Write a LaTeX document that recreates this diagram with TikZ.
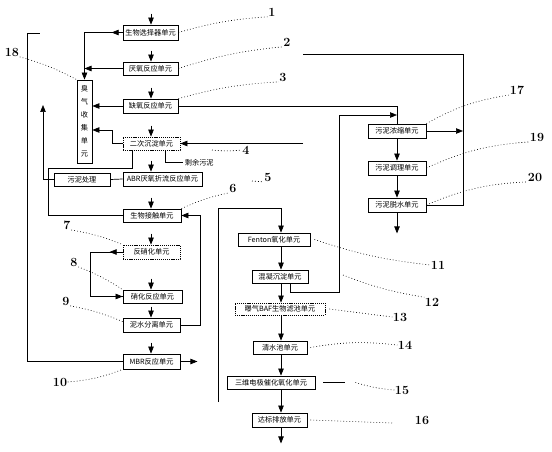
\documentclass[tikz,border=0pt]{standalone}
\usepackage{fontspec}
\newfontfamily\cjk{Noto Sans CJK SC}
\usetikzlibrary{arrows.meta,calc}
\begin{document}
\begin{tikzpicture}[x=1pt,y=-1pt,
  box/.style={draw,line width=0.8pt,inner sep=0pt,font=\cjk\fontsize{7.2}{8}\selectfont},
  dbox/.style={box,dash pattern=on 1.2pt off 0.9pt},
  arr/.style={-{Triangle[width=5.5pt,length=7pt]}},
  ln/.style={line width=0.7pt},
  lead/.style={dash pattern=on 0.8pt off 2.2pt,line width=0.6pt},
  num/.style={font=\bfseries\fontsize{12.5}{13}\selectfont,inner sep=0.5pt}]
\useasboundingbox (0,0) rectangle (552,452);
% left column
\node[box,minimum width=55,minimum height=15] (b1) at (150.5,32.5) {生物选择器单元};
\node[box,minimum width=55,minimum height=13] (b2) at (150.5,68.5) {厌氧反应单元};
\node[box,minimum width=55,minimum height=14] (b3) at (150.5,106) {缺氧反应单元};
\node[dbox,minimum width=57,minimum height=13] (b4) at (151.5,143.5) {二次沉淀单元};
\node[box,minimum width=79,minimum height=14] (b5) at (162.5,179) {ABR厌氧折流反应单元};
\node[box,minimum width=15,minimum height=83,font=\cjk\fontsize{7.2}{13}\selectfont,align=center] (b18) at (84.5,121.5) {臭\\气\\收\\集\\单\\元};
\node[box,minimum width=56,minimum height=13] (bs) at (82,179.5) {污泥处理};
\node[box,minimum width=58,minimum height=13] (b6) at (152,215.5) {生物接触单元};
\node[dbox,minimum width=57,minimum height=14] (b7) at (151.5,252) {反硝化单元};
\node[box,minimum width=59,minimum height=13] (b8) at (152.5,296.5) {硝化反应单元};
\node[box,minimum width=57,minimum height=14] (b9) at (151.5,325) {泥水分离单元};
\node[box,minimum width=57,minimum height=15] (b10) at (151.5,361.5) {MBR反应单元};
% middle column
\node[box,minimum width=72,minimum height=13] (b11) at (274,239.5) {Fenton氧化单元};
\node[box,minimum width=56,minimum height=13] (b12) at (280,276.5) {混凝沉淀单元};
\node[dbox,minimum width=90,minimum height=12] (b13) at (280,309) {曝气BAF生物滤池单元};
\node[box,minimum width=54,minimum height=13] (b14) at (280,347.5) {清水池单元};
\node[box,minimum width=88,minimum height=13] (b15) at (271,382.5) {三维电极催化氧化单元};
\node[box,minimum width=55,minimum height=14] (b16) at (279.5,420) {达标排放单元};
% right column
\node[box,minimum width=58,minimum height=14] (b17) at (397,131) {污泥浓缩单元};
\node[box,minimum width=58,minimum height=14] (b19) at (397,168) {污泥调理单元};
\node[box,minimum width=58,minimum height=14] (b20) at (397,205) {污泥脱水单元};
% helper coordinates
\coordinate (cx) at (151,0);
\coordinate (cr) at (281,0);
% inflow stubs, left column
\foreach \b in {b1,b2,b3,b4,b5,b6,b7,b8,b9,b10}
  \draw[ln,arr] ($(\b.north -| cx)+(0,-11)$) -- (\b.north -| cx);
% middle column chain
\draw[ln,arr] (b11.south -| cr) -- (b12.north -| cr);
\draw[ln,arr] (b12.south -| cr) -- (b13.north -| cr);
\draw[ln,arr] (b13.south -| cr) -- (b14.north -| cr);
\draw[ln,arr] (b14.south -| cr) -- (b15.north -| cr);
\draw[ln,arr] (b15.south -| cr) -- (b16.north -| cr);
\draw[ln,arr] (b16.south -| cr) -- ($(b16.south -| cr)+(0,16)$);
% right column chain
\draw[ln,arr] (b17) -- (b19);
\draw[ln,arr] (b19) -- (b20);
\draw[ln,arr] (b20.south) -- ($(b20.south)+(0,21)$);
% gas lines to odour unit
\draw[ln,arr] (b1.west) -- (b1.west -| b18.north) -- (b18.north);
\draw[ln,arr] (b1.west) -- ++(-11,0);
\draw[ln,arr] (b2.west) -- (b2.west -| b18.north);
\draw[ln,arr] (b3.west) -- (b3.west -| b18.east);
\coordinate (k4) at (112,130);
\draw[ln,arr] (b4.west) -| (k4) -- (k4 -| b18.east);
\coordinate (k4r) at (303,143.5);
\draw[ln,arr] (k4r) -- (b4.east);
% sludge of unit 3 to concentration
\draw[ln] (b3.east) -| (b17.north);
% excess sludge
\draw[ln] ([xshift=13.5pt]b4.south) -- ++(0,12) -- ++(18,0)
  node[right,inner sep=1.5pt,font=\cjk\fontsize{7.2}{8}\selectfont] (ws) {剩余污泥};
\coordinate (k48) at (48,168);
\draw[ln] ([xshift=-19.5pt]b4.south) |- (k48) |- (b6.west);
\draw[ln] (b5.west) -- (bs.east);
\coordinate (k43) at (43,105);
\draw[ln,arr] (bs.west) -| (k43);
% return from separation to contact unit
\coordinate (k200) at (200,0);
\draw[ln,arr] (b9.east) -| (b6.east -| k200) -- (b6.east);
% recirculation 7/8
\coordinate (k90) at (90,0);
\draw[ln] (b7.west) -- (b7.west -| k90) -- (b8.west -| k90) -- (b8.west);
\draw[ln,arr] (b7.west) -- ++(-13,0);
\draw[ln,arr] ($(b8.west)+(-13,0)$) -- (b8.west);
% MBR lines
\coordinate (k27) at (27,33);
\coordinate (k40) at (40,33);
\draw[ln] (b10.west) -| (k27) -- (k40);
\draw[ln,arr] (b10.east) -- ++(17,0);
% feed to Fenton
\coordinate (pA) at (218,402);
\coordinate (pB) at (218,208);
\draw[ln,arr] (pA) -- (pB) -| (b11.north -| cr);
% sludge of unit 12
\coordinate (k12) at (290,292);
\coordinate (k339) at (339,292);
\coordinate (k339t) at (339,115);
\draw[ln] (b12.south -| k12) -- (k12) -- (k339) -- (k339t);
\draw[ln,arr] (k339t) -- (k339t -| b17.north);
% right loop
\coordinate (k303) at (303,54);
\coordinate (k463) at (463,54);
\draw[ln] (k303) -- (k463) |- (b20.east);
\draw[ln,arr] (b17.east) -- (b17.east -| k463);
% numbers
\node[num] (l1) at (272,12) {1};
\node[num] (l2) at (287,42) {2};
\node[num] (l3) at (283,77) {3};
\node[num] (l4) at (246,150) {4};
\node[num] (l5) at (268,177) {5};
\node[num] (l6) at (233,188) {6};
\node[num] (l7) at (67,225) {7};
\node[num] (l8) at (74,262) {8};
\node[num] (l9) at (66,301) {9};
\node[num] (l10) at (60,382) {10};
\node[num] (l11) at (438,265) {11};
\node[num] (l12) at (432,302) {12};
\node[num] (l13) at (400,317) {13};
\node[num] (l14) at (405,345) {14};
\node[num] (l15) at (402,390) {15};
\node[num] (l16) at (422,420) {16};
\node[num] (l17) at (517,90) {17};
\node[num] (l18) at (12,52) {18};
\node[num] (l19) at (537,137) {19};
\node[num] (l20) at (535,177) {20};
% leaders
\draw[lead] (b1.east) to[bend left=6] (l1.south west);
\draw[lead] (b2.east) to[bend left=6] (l2.south west);
\draw[lead] (b3.north east) to[bend left=6] (l3.south west);
\coordinate (s4) at (212,150);
\draw[lead] (s4) to[bend right=6] (l4.west);
\coordinate (s5) at (252,181);
\draw[lead] (s5) -- (l5.south west);
\draw[lead] (b6.north east) to[bend left=6] (l6.south west);
\draw[lead] (l7.south east) to[bend left=6] (b7.north west);
\draw[lead] (l8.south east) to[bend left=6] (b8.north west);
\draw[lead] (l9.south east) to[bend left=6] ([yshift=-4pt]b9.north west);
\draw[lead] (l10.east) to[bend right=8] (b10.south west);
\draw[lead] ([xshift=4pt]b11.east) to[bend right=6] (l11.west);
\coordinate (s12) at (343,275);
\draw[lead] (s12) to[bend right=6] (l12.north west);
\draw[lead] ([xshift=4pt]b13.east) to (l13.west);
\draw[lead] ([xshift=3pt]b14.east) to[bend left=8] (l14.west);
\draw[ln] ([xshift=8pt]b15.east) -- ++(22,0) coordinate (s15);
\draw[lead] ($(s15)+(10,0)$) to[bend right=6] (l15.west);
\coordinate (s16) at (392,423);
\draw[lead] ([xshift=3pt]b16.east) -- (s16);
\draw[lead] (b17.north east) to[bend left=10] (l17.south west);
\draw[lead] (l18.south east) to[bend left=6] (b18.north west);
\draw[lead] (b19.east) to[bend left=10] (l19.south west);
\draw[lead] (b20.east) to[bend left=10] (l20.south west);
\end{tikzpicture}
\end{document}
